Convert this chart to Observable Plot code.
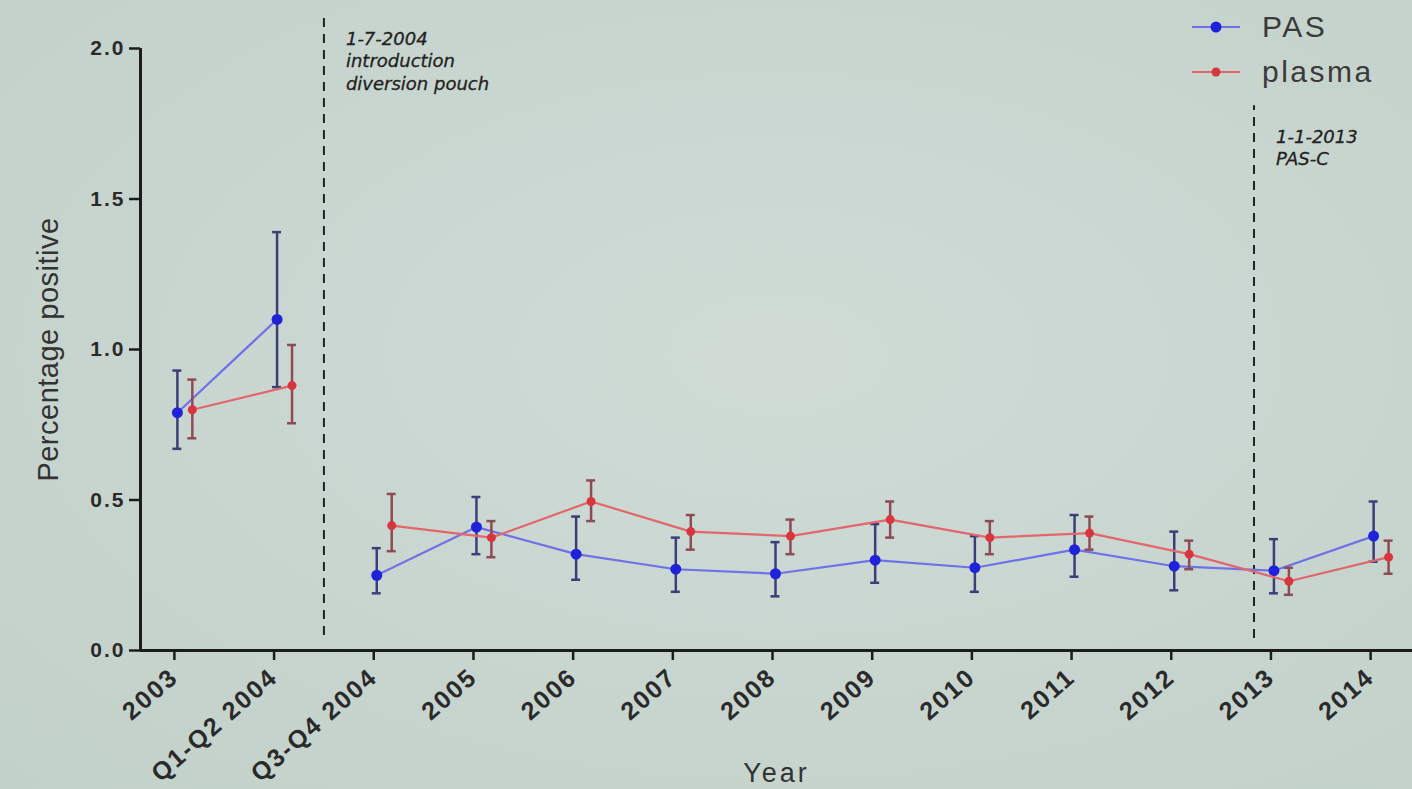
<!DOCTYPE html>
<html><head><meta charset="utf-8">
<script src="https://cdn.jsdelivr.net/npm/d3@7"></script>
<script src="https://cdn.jsdelivr.net/npm/@observablehq/plot@0.6"></script>
<style>
html,body{margin:0;padding:0;background:#c9d6d0;}
#wrap{position:relative;width:1412px;height:789px;overflow:hidden;background:radial-gradient(ellipse at 55% 45%, #d0dbd6 0%, #c8d5cf 60%, #c3d1cb 100%);}
#legend{position:absolute;left:1192px;top:4px;font-family:"Liberation Sans",Arial,sans-serif;font-size:30px;letter-spacing:2.5px;color:#3a3a3a;}
#legend div{display:flex;align-items:center;height:45px;}
#legend svg{margin-right:22px;}
svg{font-family:"Liberation Sans",Arial,sans-serif;}
g[aria-label="x-axis tick label"] text{letter-spacing:2px;}
g[aria-label="y-axis tick label"] text{letter-spacing:2px;}
</style></head><body><div id="wrap"><div id="legend"></div></div>
<script>
const categories = ["2003","Q1-Q2 2004","Q3-Q4 2004","2005","2006","2007","2008","2009","2010","2011","2012","2013","2014"];
const segments   = [0,0,1,1,1,1,1,1,1,1,1,1,1];
const seriesNames = ["PAS","plasma"];
const pasMean   = [0.79,1.10,0.25,0.41,0.32,0.27,0.255,0.30,0.275,0.335,0.28,0.265,0.38];
const pasLow    = [0.67,0.875,0.19,0.32,0.235,0.195,0.18,0.225,0.195,0.245,0.20,0.19,0.295];
const pasHigh   = [0.93,1.39,0.34,0.51,0.445,0.375,0.36,0.42,0.38,0.45,0.395,0.37,0.495];
const plasmaMean= [0.80,0.88,0.415,0.375,0.495,0.395,0.38,0.435,0.375,0.39,0.32,0.23,0.31];
const plasmaLow = [0.705,0.755,0.33,0.31,0.43,0.335,0.32,0.375,0.32,0.335,0.27,0.185,0.255];
const plasmaHigh= [0.90,1.015,0.52,0.43,0.565,0.45,0.435,0.495,0.43,0.445,0.365,0.275,0.365];
const seriesOffset = [0.03, 0.18];
const lineColors = ["#6f72e6","#e2676c"];
const dotColors  = ["#1f22d8","#d8353f"];
const barColors  = ["#3a3f78","#8e4a55"];
const dotRadius  = [5.5, 4.5];
const eventPos    = [1.5, 10.83];
const eventTop    = [2.1, 1.81];
const eventBottom = [0.05, 0.04];
const eventLabelY = [2.065, 1.74];
const eventLabels = ["1-7-2004\nintroduction\ndiversion pouch", "1-1-2013\nPAS-C"];
const yTicks = [0, 0.5, 1.0, 1.5, 2.0];
const xTitle = "Year", yTitle = "Percentage positive";

const means = [pasMean, plasmaMean], lows = [pasLow, plasmaLow], highs = [pasHigh, plasmaHigh];
const rows = [];
seriesNames.forEach((s, k) => categories.forEach((c, i) => rows.push({
  series: s, k, cat: c, seg: segments[i], xpos: i + seriesOffset[k],
  mean: means[k][i], lo: lows[k][i], hi: highs[k][i]
})));
const events = eventPos.map((p, i) => ({pos: p, top: eventTop[i], bottom: eventBottom[i], ly: eventLabelY[i], label: eventLabels[i]}));
const cap = 0.045;
const xMin = -0.34, xMax = 12.42;

const marks = [
  Plot.ruleX(events, {x: "pos", y1: "bottom", y2: "top", stroke: "#222", strokeWidth: 2, strokeDasharray: "9,7"}),
  Plot.text(events, {x: "pos", y: "ly", text: "label", dx: 22, textAnchor: "start", lineAnchor: "top", lineHeight: 1.25, fontSize: 18, fontFamily: "DejaVu Sans", fontStyle: "italic", fill: "#222", stroke: "#222", strokeWidth: 0.3})
];
seriesNames.forEach((s, k) => {
  const d = rows.filter(r => r.k === k);
  marks.push(
    Plot.line(d, {x: "xpos", y: "mean", z: "seg", stroke: lineColors[k], strokeWidth: 2.2}),
    Plot.ruleX(d, {x: "xpos", y1: "lo", y2: "hi", stroke: barColors[k], strokeWidth: 2.5}),
    Plot.ruleY(d, {y: "hi", x1: r => r.xpos - cap, x2: r => r.xpos + cap, stroke: barColors[k], strokeWidth: 2.5}),
    Plot.ruleY(d, {y: "lo", x1: r => r.xpos - cap, x2: r => r.xpos + cap, stroke: barColors[k], strokeWidth: 2.5}),
    Plot.dot(d, {x: "xpos", y: "mean", r: dotRadius[k], fill: dotColors[k], stroke: "none"})
  );
});
marks.push(
  Plot.ruleY([0], {stroke: "#1c1c1c", strokeWidth: 3}),
  Plot.ruleX([xMin], {y1: 0, y2: 2, stroke: "#1c1c1c", strokeWidth: 3}),
  Plot.axisY({ticks: yTicks, tickFormat: d3.format(".1f"), tickSize: 11, tickPadding: 4, fontSize: 21, fontWeight: "bold", fill: "#2a2a2a", stroke: "#1c1c1c", strokeWidth: 2.5, label: null}),
  Plot.axisX({ticks: d3.range(categories.length), tickFormat: i => categories[i], tickRotate: -41, tickSize: 10, tickPadding: 13, fontSize: 25, fontWeight: "bold", fill: "#2a2a2a", stroke: "#1c1c1c", strokeWidth: 2.5, label: null}),
  Plot.text([xTitle], {frameAnchor: "bottom", dy: 131, fontSize: 27, fill: "#333", textAnchor: "middle"}),
  Plot.text([yTitle], {frameAnchor: "left", dx: -92, rotate: -90, fontSize: 29, fill: "#333", textAnchor: "middle"})
);

const chart = Plot.plot({
  width: 1412, height: 789,
  marginLeft: 140, marginRight: 0, marginTop: 48, marginBottom: 139,
  style: {background: "transparent", overflow: "visible"},
  x: {type: "linear", domain: [xMin, xMax], axis: null},
  y: {domain: [0, 2], axis: null},
  marks
});
d3.select(chart).selectAll("text").filter(function() { return this.textContent === xTitle; }).style("letter-spacing", "3px");
d3.select(chart).selectAll("text").filter(function() { return this.textContent === yTitle; }).style("letter-spacing", "0.5px");
document.getElementById("wrap").prepend(chart);

const legend = document.getElementById("legend");
seriesNames.forEach((s, k) => {
  const row = document.createElement("div");
  row.innerHTML = `<svg width="48" height="14"><line x1="0" y1="7" x2="48" y2="7" stroke="${lineColors[k]}" stroke-width="2.2"/><circle cx="24" cy="7" r="${dotRadius[k]}" fill="${dotColors[k]}"/></svg><span>${s}</span>`;
  legend.appendChild(row);
});
</script>
</body></html>
